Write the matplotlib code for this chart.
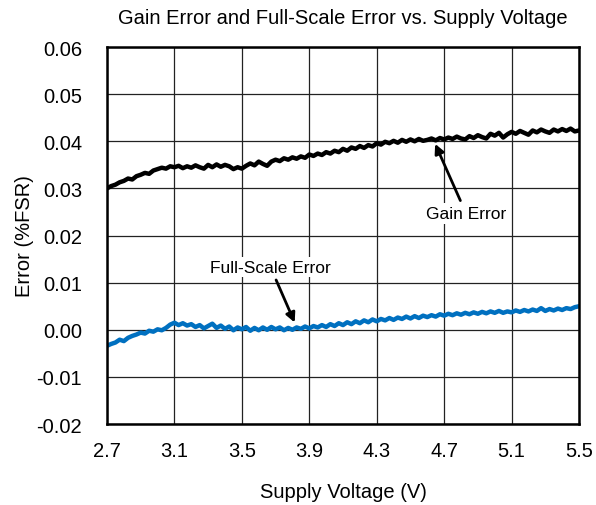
"""Gain error and full-scale error vs. supply voltage."""

import matplotlib

matplotlib.use("Agg")
import matplotlib.pyplot as plt
import numpy as np

plt.rcParams["font.family"] = ["Liberation Sans", "DejaVu Sans"]

# supply voltage grid (V), 25 mV steps
voltage = np.round(np.arange(2.7, 5.5001, 0.025), 3)

gain_error = [
    0.0300, 0.0305, 0.0308, 0.0313, 0.0316, 0.0321, 0.0319, 0.0326,
    0.0329, 0.0333, 0.0331, 0.0338, 0.0341, 0.0344, 0.0342, 0.0347,
    0.0345, 0.0348, 0.0343, 0.0347, 0.0344, 0.0349, 0.0345, 0.0342,
    0.0350, 0.0345, 0.0351, 0.0346, 0.0350, 0.0347, 0.0341, 0.0345,
    0.0342, 0.0348, 0.0353, 0.0349, 0.0357, 0.0352, 0.0348, 0.0357,
    0.0361, 0.0358, 0.0364, 0.0361, 0.0366, 0.0363, 0.0368, 0.0365,
    0.0372, 0.0369, 0.0374, 0.0371, 0.0377, 0.0374, 0.0380, 0.0377,
    0.0384, 0.0380, 0.0387, 0.0384, 0.0390, 0.0386, 0.0392, 0.0389,
    0.0396, 0.0393, 0.0399, 0.0396, 0.0401, 0.0397, 0.0403, 0.0399,
    0.0404, 0.0400, 0.0405, 0.0401, 0.0403, 0.0406, 0.0402, 0.0407,
    0.0404, 0.0408, 0.0405, 0.0410, 0.0406, 0.0404, 0.0411, 0.0407,
    0.0413, 0.0409, 0.0406, 0.0416, 0.0412, 0.0418, 0.0408, 0.0415,
    0.0420, 0.0416, 0.0422, 0.0418, 0.0414, 0.0423, 0.0419, 0.0425,
    0.0421, 0.0418, 0.0425, 0.0421, 0.0426, 0.0422, 0.0427, 0.0421,
    0.0423,
]

full_scale_error = [
    -0.0034, -0.0030, -0.0027, -0.0021, -0.0024, -0.0017, -0.0013, -0.0010,
    -0.0006, -0.0008, -0.0002, -0.0004, 0.0001, -0.0001, 0.0004, 0.0011,
    0.0015, 0.0010, 0.0014, 0.0009, 0.0012, 0.0006, 0.0010, 0.0003,
    0.0008, 0.0013, 0.0004, 0.0009, 0.0002, 0.0007, -0.0001, 0.0005,
    0.0001, 0.0006, -0.0002, 0.0004, -0.0001, 0.0005, 0.0000, 0.0006,
    0.0001, 0.0005, -0.0001, 0.0004, 0.0000, 0.0005, 0.0002, 0.0007,
    0.0003, 0.0008, 0.0005, 0.0010, 0.0006, 0.0012, 0.0008, 0.0014,
    0.0010, 0.0016, 0.0012, 0.0018, 0.0014, 0.0020, 0.0016, 0.0022,
    0.0018, 0.0023, 0.0020, 0.0025, 0.0021, 0.0026, 0.0023, 0.0028,
    0.0024, 0.0029, 0.0025, 0.0030, 0.0027, 0.0031, 0.0028, 0.0033,
    0.0030, 0.0034, 0.0031, 0.0035, 0.0032, 0.0036, 0.0033, 0.0037,
    0.0034, 0.0038, 0.0035, 0.0039, 0.0036, 0.0040, 0.0036, 0.0039,
    0.0037, 0.0041, 0.0038, 0.0042, 0.0039, 0.0043, 0.0040, 0.0046,
    0.0040, 0.0044, 0.0041, 0.0045, 0.0042, 0.0046, 0.0044, 0.0048,
    0.0050,
]

x_ticks = [2.7, 3.1, 3.5, 3.9, 4.3, 4.7, 5.1, 5.5]
y_ticks = [-0.02, -0.01, 0.00, 0.01, 0.02, 0.03, 0.04, 0.05, 0.06]

fig = plt.figure(figsize=(5.96, 5.06), dpi=100)
ax = fig.add_axes([0.1795, 0.160, 0.792, 0.745])

ax.plot(voltage, gain_error, color="black", lw=3.2, solid_capstyle="round")
ax.plot(voltage, full_scale_error, color="#0070C0", lw=3.2, solid_capstyle="round")

ax.set_xlim(2.7, 5.5)
ax.set_ylim(-0.02, 0.06)
ax.set_xticks(x_ticks)
ax.set_xticklabels([f"{v:.1f}" for v in x_ticks])
ax.set_yticks(y_ticks)
ax.set_yticklabels([f"{v:.2f}" for v in y_ticks])
ax.tick_params(length=0, labelsize=14.5)
ax.tick_params(axis="y", pad=18)
ax.tick_params(axis="x", pad=12)
ax.grid(True, color="#222222", lw=0.9)
ax.set_axisbelow(True)
for s in ax.spines.values():
    s.set_linewidth(1.8)
    s.set_color("black")

ax.set_xlabel("Supply Voltage (V)", fontsize=14.5, labelpad=16)
ax.set_ylabel("Error (%FSR)", fontsize=14.5, labelpad=2)
ax.set_title("Gain Error and Full-Scale Error vs. Supply Voltage", fontsize=14.5, pad=17)

arrow = dict(arrowstyle="-|>", color="black", lw=2.0, mutation_scale=14)
ax.annotate("Gain Error", xy=(4.64, 0.0400), xytext=(4.83, 0.0247),
            ha="center", va="center", fontsize=12.5, arrowprops=arrow,
            bbox=dict(fc="white", ec="none", pad=2))
ax.annotate("Full-Scale Error", xy=(3.82, 0.0010), xytext=(3.67, 0.0133),
            ha="center", va="center", fontsize=12.5, arrowprops=arrow,
            bbox=dict(fc="white", ec="none", pad=2))

fig.savefig("out.png", dpi=100)
